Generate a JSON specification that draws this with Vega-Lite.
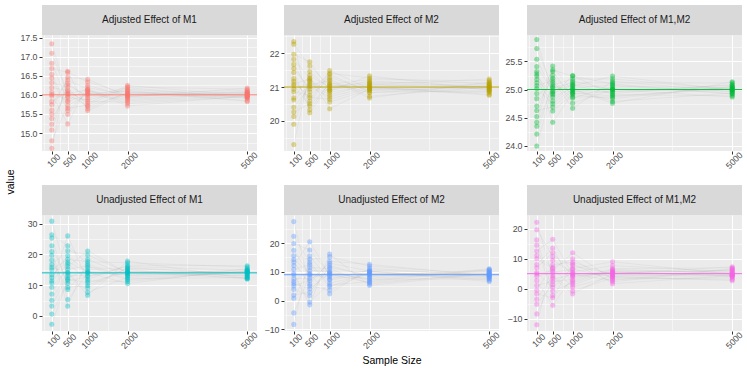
{
"$schema":"https://vega.github.io/schema/vega-lite/v6.json",
"padding":{"left":4,"top":5,"right":0,"bottom":0},
"config":{"font":"Liberation Sans","view":{"stroke":null},"axis":{"domain":false,"gridColor":"#FFFFFF","tickColor":"#333333","tickSize":3,"tickWidth":1,"labelColor":"#4D4D4D","labelFontSize":8.8,"labelFont":"Liberation Sans","titleFont":"Liberation Sans","titleFontWeight":"normal","titleColor":"#000000","titleFontSize":10.5,"labelOverlap":false,"labelFlush":false}},
"datasets":{
"p1":[
{"r":1,"n":100,"v":16.07},{"r":2,"n":100,"v":15.23},{"r":3,"n":100,"v":16.44},{"r":4,"n":100,"v":17.09},{"r":5,"n":100,"v":15.75},{"r":6,"n":100,"v":15.97},{"r":7,"n":100,"v":16.69},{"r":8,"n":100,"v":14.80},{"r":9,"n":100,"v":16.19},{"r":10,"n":100,"v":15.50},{"r":11,"n":100,"v":16.32},{"r":12,"n":100,"v":17.34},{"r":13,"n":100,"v":15.08},{"r":14,"n":100,"v":16.01},{"r":15,"n":100,"v":15.83},{"r":16,"n":100,"v":16.83},{"r":17,"n":100,"v":15.60},{"r":18,"n":100,"v":16.54},{"r":19,"n":100,"v":15.38},{"r":20,"n":100,"v":14.60},
{"r":1,"n":500,"v":15.85},{"r":2,"n":500,"v":16.26},{"r":3,"n":500,"v":15.59},{"r":4,"n":500,"v":16.02},{"r":5,"n":500,"v":16.39},{"r":6,"n":500,"v":15.93},{"r":7,"n":500,"v":16.59},{"r":8,"n":500,"v":15.72},{"r":9,"n":500,"v":16.12},{"r":10,"n":500,"v":15.49},{"r":11,"n":500,"v":16.20},{"r":12,"n":500,"v":15.97},{"r":13,"n":500,"v":16.31},{"r":14,"n":500,"v":15.24},{"r":15,"n":500,"v":16.08},{"r":16,"n":500,"v":15.82},{"r":17,"n":500,"v":16.46},{"r":18,"n":500,"v":15.65},{"r":19,"n":500,"v":16.04},{"r":20,"n":500,"v":16.62},
{"r":1,"n":1000,"v":16.19},{"r":2,"n":1000,"v":15.97},{"r":3,"n":1000,"v":16.08},{"r":4,"n":1000,"v":15.70},{"r":5,"n":1000,"v":16.15},{"r":6,"n":1000,"v":15.87},{"r":7,"n":1000,"v":16.34},{"r":8,"n":1000,"v":16.01},{"r":9,"n":1000,"v":15.78},{"r":10,"n":1000,"v":16.11},{"r":11,"n":1000,"v":15.64},{"r":12,"n":1000,"v":16.05},{"r":13,"n":1000,"v":15.92},{"r":14,"n":1000,"v":16.25},{"r":15,"n":1000,"v":15.83},{"r":16,"n":1000,"v":16.03},{"r":17,"n":1000,"v":16.41},{"r":18,"n":1000,"v":15.73},{"r":19,"n":1000,"v":16.13},{"r":20,"n":1000,"v":15.59},
{"r":1,"n":2000,"v":15.99},{"r":2,"n":2000,"v":16.19},{"r":3,"n":2000,"v":15.92},{"r":4,"n":2000,"v":16.05},{"r":5,"n":2000,"v":15.77},{"r":6,"n":2000,"v":16.12},{"r":7,"n":2000,"v":16.02},{"r":8,"n":2000,"v":15.85},{"r":9,"n":2000,"v":16.25},{"r":10,"n":2000,"v":15.94},{"r":11,"n":2000,"v":16.07},{"r":12,"n":2000,"v":15.88},{"r":13,"n":2000,"v":16.15},{"r":14,"n":2000,"v":15.97},{"r":15,"n":2000,"v":15.81},{"r":16,"n":2000,"v":16.10},{"r":17,"n":2000,"v":15.96},{"r":18,"n":2000,"v":16.21},{"r":19,"n":2000,"v":15.71},{"r":20,"n":2000,"v":16.03},
{"r":1,"n":5000,"v":16.06},{"r":2,"n":5000,"v":15.92},{"r":3,"n":5000,"v":16.02},{"r":4,"n":5000,"v":16.12},{"r":5,"n":5000,"v":15.96},{"r":6,"n":5000,"v":15.85},{"r":7,"n":5000,"v":16.07},{"r":8,"n":5000,"v":16.00},{"r":9,"n":5000,"v":15.97},{"r":10,"n":5000,"v":16.18},{"r":11,"n":5000,"v":15.91},{"r":12,"n":5000,"v":16.04},{"r":13,"n":5000,"v":15.94},{"r":14,"n":5000,"v":16.09},{"r":15,"n":5000,"v":15.98},{"r":16,"n":5000,"v":15.83},{"r":17,"n":5000,"v":16.05},{"r":18,"n":5000,"v":16.15},{"r":19,"n":5000,"v":15.97},{"r":20,"n":5000,"v":16.00}
],
"p2":[
{"r":1,"n":100,"v":20.68},{"r":2,"n":100,"v":21.55},{"r":3,"n":100,"v":20.13},{"r":4,"n":100,"v":21.04},{"r":5,"n":100,"v":21.82},{"r":6,"n":100,"v":20.86},{"r":7,"n":100,"v":22.27},{"r":8,"n":100,"v":20.40},{"r":9,"n":100,"v":21.25},{"r":10,"n":100,"v":19.90},{"r":11,"n":100,"v":21.43},{"r":12,"n":100,"v":20.94},{"r":13,"n":100,"v":21.67},{"r":14,"n":100,"v":19.30},{"r":15,"n":100,"v":21.17},{"r":16,"n":100,"v":20.62},{"r":17,"n":100,"v":21.97},{"r":18,"n":100,"v":20.26},{"r":19,"n":100,"v":21.09},{"r":20,"n":100,"v":22.35},
{"r":1,"n":500,"v":21.35},{"r":2,"n":500,"v":20.94},{"r":3,"n":500,"v":21.16},{"r":4,"n":500,"v":20.45},{"r":5,"n":500,"v":21.27},{"r":6,"n":500,"v":20.76},{"r":7,"n":500,"v":21.62},{"r":8,"n":500,"v":21.01},{"r":9,"n":500,"v":20.59},{"r":10,"n":500,"v":21.20},{"r":11,"n":500,"v":20.33},{"r":12,"n":500,"v":21.10},{"r":13,"n":500,"v":20.86},{"r":14,"n":500,"v":21.46},{"r":15,"n":500,"v":20.69},{"r":16,"n":500,"v":21.06},{"r":17,"n":500,"v":21.75},{"r":18,"n":500,"v":20.51},{"r":19,"n":500,"v":21.24},{"r":20,"n":500,"v":20.24},
{"r":1,"n":1000,"v":20.98},{"r":2,"n":1000,"v":21.37},{"r":3,"n":1000,"v":20.85},{"r":4,"n":1000,"v":21.09},{"r":5,"n":1000,"v":20.56},{"r":6,"n":1000,"v":21.23},{"r":7,"n":1000,"v":21.03},{"r":8,"n":1000,"v":20.71},{"r":9,"n":1000,"v":21.49},{"r":10,"n":1000,"v":20.89},{"r":11,"n":1000,"v":21.13},{"r":12,"n":1000,"v":20.77},{"r":13,"n":1000,"v":21.29},{"r":14,"n":1000,"v":20.95},{"r":15,"n":1000,"v":20.64},{"r":16,"n":1000,"v":21.19},{"r":17,"n":1000,"v":20.91},{"r":18,"n":1000,"v":21.41},{"r":19,"n":1000,"v":20.36},{"r":20,"n":1000,"v":21.06},
{"r":1,"n":2000,"v":21.11},{"r":2,"n":2000,"v":20.85},{"r":3,"n":2000,"v":21.04},{"r":4,"n":2000,"v":21.22},{"r":5,"n":2000,"v":20.92},{"r":6,"n":2000,"v":20.73},{"r":7,"n":2000,"v":21.14},{"r":8,"n":2000,"v":21.01},{"r":9,"n":2000,"v":20.95},{"r":10,"n":2000,"v":21.33},{"r":11,"n":2000,"v":20.83},{"r":12,"n":2000,"v":21.07},{"r":13,"n":2000,"v":20.90},{"r":14,"n":2000,"v":21.18},{"r":15,"n":2000,"v":20.97},{"r":16,"n":2000,"v":20.68},{"r":17,"n":2000,"v":21.09},{"r":18,"n":2000,"v":21.27},{"r":19,"n":2000,"v":20.94},{"r":20,"n":2000,"v":21.00},
{"r":1,"n":5000,"v":21.01},{"r":2,"n":5000,"v":20.87},{"r":3,"n":5000,"v":21.08},{"r":4,"n":5000,"v":21.19},{"r":5,"n":5000,"v":20.96},{"r":6,"n":5000,"v":21.00},{"r":7,"n":5000,"v":21.12},{"r":8,"n":5000,"v":20.79},{"r":9,"n":5000,"v":21.03},{"r":10,"n":5000,"v":20.91},{"r":11,"n":5000,"v":21.06},{"r":12,"n":5000,"v":21.24},{"r":13,"n":5000,"v":20.84},{"r":14,"n":5000,"v":21.00},{"r":15,"n":5000,"v":20.97},{"r":16,"n":5000,"v":21.15},{"r":17,"n":5000,"v":20.93},{"r":18,"n":5000,"v":21.10},{"r":19,"n":5000,"v":20.89},{"r":20,"n":5000,"v":20.76}
],
"p3":[
{"r":1,"n":100,"v":25.41},{"r":2,"n":100,"v":24.93},{"r":3,"n":100,"v":25.18},{"r":4,"n":100,"v":24.35},{"r":5,"n":100,"v":25.32},{"r":6,"n":100,"v":24.71},{"r":7,"n":100,"v":25.73},{"r":8,"n":100,"v":25.02},{"r":9,"n":100,"v":24.52},{"r":10,"n":100,"v":25.24},{"r":11,"n":100,"v":24.21},{"r":12,"n":100,"v":25.12},{"r":13,"n":100,"v":24.84},{"r":14,"n":100,"v":25.54},{"r":15,"n":100,"v":24.63},{"r":16,"n":100,"v":25.07},{"r":17,"n":100,"v":25.89},{"r":18,"n":100,"v":24.42},{"r":19,"n":100,"v":25.28},{"r":20,"n":100,"v":24.00},
{"r":1,"n":500,"v":24.98},{"r":2,"n":500,"v":25.32},{"r":3,"n":500,"v":24.87},{"r":4,"n":500,"v":25.08},{"r":5,"n":500,"v":24.62},{"r":6,"n":500,"v":25.20},{"r":7,"n":500,"v":25.03},{"r":8,"n":500,"v":24.75},{"r":9,"n":500,"v":25.42},{"r":10,"n":500,"v":24.91},{"r":11,"n":500,"v":25.12},{"r":12,"n":500,"v":24.80},{"r":13,"n":500,"v":25.25},{"r":14,"n":500,"v":24.96},{"r":15,"n":500,"v":24.69},{"r":16,"n":500,"v":25.16},{"r":17,"n":500,"v":24.93},{"r":18,"n":500,"v":25.35},{"r":19,"n":500,"v":24.42},{"r":20,"n":500,"v":25.05},
{"r":1,"n":1000,"v":25.09},{"r":2,"n":1000,"v":24.87},{"r":3,"n":1000,"v":25.03},{"r":4,"n":1000,"v":25.19},{"r":5,"n":1000,"v":24.93},{"r":6,"n":1000,"v":24.76},{"r":7,"n":1000,"v":25.12},{"r":8,"n":1000,"v":25.01},{"r":9,"n":1000,"v":24.96},{"r":10,"n":1000,"v":25.25},{"r":11,"n":1000,"v":24.85},{"r":12,"n":1000,"v":25.06},{"r":13,"n":1000,"v":24.91},{"r":14,"n":1000,"v":25.15},{"r":15,"n":1000,"v":24.98},{"r":16,"n":1000,"v":24.67},{"r":17,"n":1000,"v":25.08},{"r":18,"n":1000,"v":25.24},{"r":19,"n":1000,"v":24.94},{"r":20,"n":1000,"v":25.00},
{"r":1,"n":2000,"v":25.01},{"r":2,"n":2000,"v":24.87},{"r":3,"n":2000,"v":25.08},{"r":4,"n":2000,"v":25.19},{"r":5,"n":2000,"v":24.96},{"r":6,"n":2000,"v":25.00},{"r":7,"n":2000,"v":25.12},{"r":8,"n":2000,"v":24.79},{"r":9,"n":2000,"v":25.03},{"r":10,"n":2000,"v":24.91},{"r":11,"n":2000,"v":25.06},{"r":12,"n":2000,"v":25.24},{"r":13,"n":2000,"v":24.84},{"r":14,"n":2000,"v":25.00},{"r":15,"n":2000,"v":24.97},{"r":16,"n":2000,"v":25.15},{"r":17,"n":2000,"v":24.93},{"r":18,"n":2000,"v":25.10},{"r":19,"n":2000,"v":24.89},{"r":20,"n":2000,"v":24.76},
{"r":1,"n":5000,"v":24.97},{"r":2,"n":5000,"v":25.05},{"r":3,"n":5000,"v":24.92},{"r":4,"n":5000,"v":25.00},{"r":5,"n":5000,"v":25.08},{"r":6,"n":5000,"v":24.99},{"r":7,"n":5000,"v":25.12},{"r":8,"n":5000,"v":24.94},{"r":9,"n":5000,"v":25.02},{"r":10,"n":5000,"v":24.89},{"r":11,"n":5000,"v":25.04},{"r":12,"n":5000,"v":24.99},{"r":13,"n":5000,"v":25.06},{"r":14,"n":5000,"v":24.87},{"r":15,"n":5000,"v":25.02},{"r":16,"n":5000,"v":24.96},{"r":17,"n":5000,"v":25.09},{"r":18,"n":5000,"v":24.93},{"r":19,"n":5000,"v":25.01},{"r":20,"n":5000,"v":25.14}
],
"p4":[
{"r":1,"n":100,"v":13.4},{"r":2,"n":100,"v":25.3},{"r":3,"n":100,"v":9.3},{"r":4,"n":100,"v":16.7},{"r":5,"n":100,"v":0.6},{"r":6,"n":100,"v":20.9},{"r":7,"n":100,"v":15.0},{"r":8,"n":100,"v":5.1},{"r":9,"n":100,"v":30.8},{"r":10,"n":100,"v":10.8},{"r":11,"n":100,"v":18.1},{"r":12,"n":100,"v":7.1},{"r":13,"n":100,"v":22.8},{"r":14,"n":100,"v":12.5},{"r":15,"n":100,"v":3.2},{"r":16,"n":100,"v":19.7},{"r":17,"n":100,"v":11.4},{"r":18,"n":100,"v":26.4},{"r":19,"n":100,"v":-2.7},{"r":20,"n":100,"v":15.8},
{"r":1,"n":500,"v":17.5},{"r":2,"n":500,"v":9.3},{"r":3,"n":500,"v":15.2},{"r":4,"n":500,"v":21.2},{"r":5,"n":500,"v":11.4},{"r":6,"n":500,"v":5.3},{"r":7,"n":500,"v":18.4},{"r":8,"n":500,"v":14.2},{"r":9,"n":500,"v":12.4},{"r":10,"n":500,"v":26.0},{"r":11,"n":500,"v":8.6},{"r":12,"n":500,"v":16.1},{"r":13,"n":500,"v":10.6},{"r":14,"n":500,"v":19.6},{"r":15,"n":500,"v":13.1},{"r":16,"n":500,"v":3.2},{"r":17,"n":500,"v":16.9},{"r":18,"n":500,"v":22.8},{"r":19,"n":500,"v":11.9},{"r":20,"n":500,"v":13.9},
{"r":1,"n":1000,"v":14.4},{"r":2,"n":1000,"v":9.9},{"r":3,"n":1000,"v":16.3},{"r":4,"n":1000,"v":19.8},{"r":5,"n":1000,"v":12.7},{"r":6,"n":1000,"v":13.9},{"r":7,"n":1000,"v":17.6},{"r":8,"n":1000,"v":7.7},{"r":9,"n":1000,"v":15.0},{"r":10,"n":1000,"v":11.4},{"r":11,"n":1000,"v":15.7},{"r":12,"n":1000,"v":21.1},{"r":13,"n":1000,"v":9.1},{"r":14,"n":1000,"v":14.1},{"r":15,"n":1000,"v":13.1},{"r":16,"n":1000,"v":18.4},{"r":17,"n":1000,"v":11.9},{"r":18,"n":1000,"v":16.9},{"r":19,"n":1000,"v":10.8},{"r":20,"n":1000,"v":6.7},
{"r":1,"n":2000,"v":13.2},{"r":2,"n":2000,"v":15.4},{"r":3,"n":2000,"v":11.7},{"r":4,"n":2000,"v":14.1},{"r":5,"n":2000,"v":16.1},{"r":6,"n":2000,"v":13.6},{"r":7,"n":2000,"v":17.3},{"r":8,"n":2000,"v":12.5},{"r":9,"n":2000,"v":14.7},{"r":10,"n":2000,"v":11.2},{"r":11,"n":2000,"v":15.1},{"r":12,"n":2000,"v":13.9},{"r":13,"n":2000,"v":15.7},{"r":14,"n":2000,"v":10.5},{"r":15,"n":2000,"v":14.4},{"r":16,"n":2000,"v":13.0},{"r":17,"n":2000,"v":16.5},{"r":18,"n":2000,"v":12.1},{"r":19,"n":2000,"v":14.2},{"r":20,"n":2000,"v":17.8},
{"r":1,"n":5000,"v":15.1},{"r":2,"n":5000,"v":13.8},{"r":3,"n":5000,"v":14.5},{"r":4,"n":5000,"v":12.3},{"r":5,"n":5000,"v":14.8},{"r":6,"n":5000,"v":13.3},{"r":7,"n":5000,"v":15.9},{"r":8,"n":5000,"v":14.0},{"r":9,"n":5000,"v":12.8},{"r":10,"n":5000,"v":14.6},{"r":11,"n":5000,"v":12.0},{"r":12,"n":5000,"v":14.3},{"r":13,"n":5000,"v":13.6},{"r":14,"n":5000,"v":15.4},{"r":15,"n":5000,"v":13.1},{"r":16,"n":5000,"v":14.2},{"r":17,"n":5000,"v":16.3},{"r":18,"n":5000,"v":12.5},{"r":19,"n":5000,"v":14.7},{"r":20,"n":5000,"v":12.1}
],
"p5":[
{"r":1,"n":100,"v":14.3},{"r":2,"n":100,"v":1.9},{"r":3,"n":100,"v":10.9},{"r":4,"n":100,"v":19.9},{"r":5,"n":100,"v":5.1},{"r":6,"n":100,"v":-4.3},{"r":7,"n":100,"v":15.6},{"r":8,"n":100,"v":9.4},{"r":9,"n":100,"v":6.6},{"r":10,"n":100,"v":27.5},{"r":11,"n":100,"v":0.8},{"r":12,"n":100,"v":12.2},{"r":13,"n":100,"v":3.9},{"r":14,"n":100,"v":17.5},{"r":15,"n":100,"v":7.6},{"r":16,"n":100,"v":-8.3},{"r":17,"n":100,"v":13.4},{"r":18,"n":100,"v":22.4},{"r":19,"n":100,"v":5.9},{"r":20,"n":100,"v":8.9},
{"r":1,"n":500,"v":9.5},{"r":2,"n":500,"v":2.9},{"r":3,"n":500,"v":12.5},{"r":4,"n":500,"v":17.6},{"r":5,"n":500,"v":7.0},{"r":6,"n":500,"v":8.8},{"r":7,"n":500,"v":14.4},{"r":8,"n":500,"v":-0.5},{"r":9,"n":500,"v":10.5},{"r":10,"n":500,"v":5.1},{"r":11,"n":500,"v":11.5},{"r":12,"n":500,"v":20.5},{"r":13,"n":500,"v":1.7},{"r":14,"n":500,"v":9.1},{"r":15,"n":500,"v":7.7},{"r":16,"n":500,"v":15.5},{"r":17,"n":500,"v":5.8},{"r":18,"n":500,"v":13.3},{"r":19,"n":500,"v":4.1},{"r":20,"n":500,"v":-1.5},
{"r":1,"n":1000,"v":7.4},{"r":2,"n":1000,"v":11.6},{"r":3,"n":1000,"v":4.8},{"r":4,"n":1000,"v":9.2},{"r":5,"n":1000,"v":13.0},{"r":6,"n":1000,"v":8.3},{"r":7,"n":1000,"v":15.2},{"r":8,"n":1000,"v":6.1},{"r":9,"n":1000,"v":10.2},{"r":10,"n":1000,"v":3.7},{"r":11,"n":1000,"v":11.1},{"r":12,"n":1000,"v":8.7},{"r":13,"n":1000,"v":12.2},{"r":14,"n":1000,"v":2.4},{"r":15,"n":1000,"v":9.8},{"r":16,"n":1000,"v":7.2},{"r":17,"n":1000,"v":13.7},{"r":18,"n":1000,"v":5.4},{"r":19,"n":1000,"v":9.5},{"r":20,"n":1000,"v":16.2},
{"r":1,"n":2000,"v":10.7},{"r":2,"n":2000,"v":8.7},{"r":3,"n":2000,"v":9.8},{"r":4,"n":2000,"v":6.3},{"r":5,"n":2000,"v":10.3},{"r":6,"n":2000,"v":7.8},{"r":7,"n":2000,"v":12.0},{"r":8,"n":2000,"v":9.1},{"r":9,"n":2000,"v":7.0},{"r":10,"n":2000,"v":10.0},{"r":11,"n":2000,"v":5.8},{"r":12,"n":2000,"v":9.5},{"r":13,"n":2000,"v":8.3},{"r":14,"n":2000,"v":11.2},{"r":15,"n":2000,"v":7.5},{"r":16,"n":2000,"v":9.3},{"r":17,"n":2000,"v":12.6},{"r":18,"n":2000,"v":6.6},{"r":19,"n":2000,"v":10.2},{"r":20,"n":2000,"v":5.3},
{"r":1,"n":5000,"v":8.9},{"r":2,"n":5000,"v":10.6},{"r":3,"n":5000,"v":8.3},{"r":4,"n":5000,"v":9.4},{"r":5,"n":5000,"v":7.1},{"r":6,"n":5000,"v":10.0},{"r":7,"n":5000,"v":9.1},{"r":8,"n":5000,"v":7.7},{"r":9,"n":5000,"v":11.1},{"r":10,"n":5000,"v":8.5},{"r":11,"n":5000,"v":9.6},{"r":12,"n":5000,"v":8.0},{"r":13,"n":5000,"v":10.3},{"r":14,"n":5000,"v":8.8},{"r":15,"n":5000,"v":7.5},{"r":16,"n":5000,"v":9.8},{"r":17,"n":5000,"v":8.6},{"r":18,"n":5000,"v":10.8},{"r":19,"n":5000,"v":6.6},{"r":20,"n":5000,"v":9.3}
],
"p6":[
{"r":1,"n":100,"v":4.2},{"r":2,"n":100,"v":14.5},{"r":3,"n":100,"v":-0.5},{"r":4,"n":100,"v":-8.4},{"r":5,"n":100,"v":8.1},{"r":6,"n":100,"v":5.4},{"r":7,"n":100,"v":-3.5},{"r":8,"n":100,"v":19.7},{"r":9,"n":100,"v":2.7},{"r":10,"n":100,"v":11.1},{"r":11,"n":100,"v":1.1},{"r":12,"n":100,"v":-12.0},{"r":13,"n":100,"v":16.3},{"r":14,"n":100,"v":4.9},{"r":15,"n":100,"v":7.0},{"r":16,"n":100,"v":-5.2},{"r":17,"n":100,"v":10.0},{"r":18,"n":100,"v":-1.7},{"r":19,"n":100,"v":12.6},{"r":20,"n":100,"v":22.2},
{"r":1,"n":500,"v":5.4},{"r":2,"n":500,"v":-2.2},{"r":3,"n":500,"v":8.0},{"r":4,"n":500,"v":3.2},{"r":5,"n":500,"v":13.6},{"r":6,"n":500,"v":0.6},{"r":7,"n":500,"v":4.4},{"r":8,"n":500,"v":10.7},{"r":9,"n":500,"v":-5.5},{"r":10,"n":500,"v":7.1},{"r":11,"n":500,"v":2.4},{"r":12,"n":500,"v":9.5},{"r":13,"n":500,"v":-0.7},{"r":14,"n":500,"v":6.0},{"r":15,"n":500,"v":12.0},{"r":16,"n":500,"v":1.4},{"r":17,"n":500,"v":6.7},{"r":18,"n":500,"v":-3.0},{"r":19,"n":500,"v":16.5},{"r":20,"n":500,"v":3.9},
{"r":1,"n":1000,"v":6.5},{"r":2,"n":1000,"v":2.5},{"r":3,"n":1000,"v":8.9},{"r":4,"n":1000,"v":4.8},{"r":5,"n":1000,"v":1.3},{"r":6,"n":1000,"v":5.6},{"r":7,"n":1000,"v":-0.7},{"r":8,"n":1000,"v":7.7},{"r":9,"n":1000,"v":3.9},{"r":10,"n":1000,"v":10.0},{"r":11,"n":1000,"v":3.1},{"r":12,"n":1000,"v":5.3},{"r":13,"n":1000,"v":2.0},{"r":14,"n":1000,"v":12.0},{"r":15,"n":1000,"v":4.2},{"r":16,"n":1000,"v":6.7},{"r":17,"n":1000,"v":0.6},{"r":18,"n":1000,"v":8.3},{"r":19,"n":1000,"v":4.6},{"r":20,"n":1000,"v":-1.7},
{"r":1,"n":2000,"v":3.9},{"r":2,"n":2000,"v":6.5},{"r":3,"n":2000,"v":4.6},{"r":4,"n":2000,"v":2.8},{"r":5,"n":2000,"v":5.8},{"r":6,"n":2000,"v":7.7},{"r":7,"n":2000,"v":3.6},{"r":8,"n":2000,"v":4.9},{"r":9,"n":2000,"v":5.5},{"r":10,"n":2000,"v":1.7},{"r":11,"n":2000,"v":6.7},{"r":12,"n":2000,"v":4.3},{"r":13,"n":2000,"v":6.1},{"r":14,"n":2000,"v":3.2},{"r":15,"n":2000,"v":5.3},{"r":16,"n":2000,"v":9.0},{"r":17,"n":2000,"v":4.1},{"r":18,"n":2000,"v":2.3},{"r":19,"n":2000,"v":5.6},{"r":20,"n":2000,"v":5.0},
{"r":1,"n":5000,"v":4.0},{"r":2,"n":5000,"v":5.2},{"r":3,"n":5000,"v":4.5},{"r":4,"n":5000,"v":6.7},{"r":5,"n":5000,"v":4.2},{"r":6,"n":5000,"v":5.7},{"r":7,"n":5000,"v":3.1},{"r":8,"n":5000,"v":5.0},{"r":9,"n":5000,"v":6.2},{"r":10,"n":5000,"v":4.4},{"r":11,"n":5000,"v":7.0},{"r":12,"n":5000,"v":4.7},{"r":13,"n":5000,"v":5.4},{"r":14,"n":5000,"v":3.6},{"r":15,"n":5000,"v":6.0},{"r":16,"n":5000,"v":4.8},{"r":17,"n":5000,"v":2.7},{"r":18,"n":5000,"v":6.5},{"r":19,"n":5000,"v":4.3},{"r":20,"n":5000,"v":7.3}
]
},
"spacing":0,
"hconcat":[
{"width":14,"height":354,"data":{"values":[{"t":"value"}]},"mark":{"type":"text","angle":270,"fontSize":10.5,"color":"#000000"},"encoding":{"text":{"field":"t","type":"nominal"}}},
{"spacing":14,"vconcat":[
{"spacing":2,"hconcat":[
{"spacing":0,"bounds":"flush","vconcat":[
{"width":215,"height":30,"view":{"fill":"#D9D9D9","stroke":null},"data":{"values":[{"t":"Adjusted Effect of M1"}]},"mark":{"type":"text","fontSize":10,"color":"#1A1A1A"},"encoding":{"text":{"field":"t","type":"nominal"}}},
{"width":215,"height":116,"view":{"fill":"#EBEBEB","stroke":null},"data":{"name":"p1"},"resolve":{"axis":{"x":"independent","y":"independent"}},"layer":[
{"mark":{"type":"line","color":"#9A9A9A","strokeWidth":0.5,"opacity":0.22},"encoding":{"x":{"field":"n","type":"quantitative","scale":{"domain":[-145,5245],"nice":false,"zero":false},"axis":{"orient":"top","values":[-100,300,750,1500,3500],"grid":true,"gridWidth":0.5,"labels":false,"ticks":false,"title":null,"minExtent":0,"maxExtent":0}},"y":{"field":"v","type":"quantitative","scale":{"domain":[14.53,17.57],"nice":false,"zero":false},"axis":{"orient":"right","values":[14.75,15.25,15.75,16.25,16.75,17.25],"grid":true,"gridWidth":0.5,"labels":false,"ticks":false,"title":null,"minExtent":0,"maxExtent":0}},"detail":{"field":"r","type":"nominal"}}},
{"mark":{"type":"circle","color":"#F8766D","size":26,"opacity":0.4},"encoding":{"x":{"field":"n","type":"quantitative","scale":{"domain":[-145,5245],"nice":false,"zero":false},"axis":{"orient":"bottom","values":[100,500,1000,2000,5000],"format":"d","grid":true,"gridWidth":1,"labelAngle":-45,"labelAlign":"center","labelBaseline":"middle","labelPadding":6,"labelOffset":1.5,"title":null,"minExtent":16,"maxExtent":16}},"y":{"field":"v","type":"quantitative","scale":{"domain":[14.53,17.57],"nice":false,"zero":false},"axis":{"orient":"left","values":[15,15.5,16,16.5,17,17.5],"format":".1f","grid":true,"gridWidth":1,"labelPadding":2,"title":null,"minExtent":23.7,"maxExtent":23.7}}}},
{"data":{"values":[{"t":16}]},"mark":{"type":"rule","color":"#F8766D","strokeWidth":1},"encoding":{"y":{"field":"t","type":"quantitative","scale":{"domain":[14.53,17.57],"nice":false,"zero":false},"axis":null}}}
]}
]},
{"spacing":0,"bounds":"flush","vconcat":[
{"width":215,"height":30,"view":{"fill":"#D9D9D9","stroke":null},"data":{"values":[{"t":"Adjusted Effect of M2"}]},"mark":{"type":"text","fontSize":10,"color":"#1A1A1A"},"encoding":{"text":{"field":"t","type":"nominal"}}},
{"width":215,"height":116,"view":{"fill":"#EBEBEB","stroke":null},"data":{"name":"p2"},"resolve":{"axis":{"x":"independent","y":"independent"}},"layer":[
{"mark":{"type":"line","color":"#9A9A9A","strokeWidth":0.5,"opacity":0.22},"encoding":{"x":{"field":"n","type":"quantitative","scale":{"domain":[-145,5245],"nice":false,"zero":false},"axis":{"orient":"top","values":[-100,300,750,1500,3500],"grid":true,"gridWidth":0.5,"labels":false,"ticks":false,"title":null,"minExtent":0,"maxExtent":0}},"y":{"field":"v","type":"quantitative","scale":{"domain":[19.11,22.54],"nice":false,"zero":false},"axis":{"orient":"right","values":[19.5,20.5,21.5,22.5],"grid":true,"gridWidth":0.5,"labels":false,"ticks":false,"title":null,"minExtent":0,"maxExtent":0}},"detail":{"field":"r","type":"nominal"}}},
{"mark":{"type":"circle","color":"#B79F00","size":26,"opacity":0.4},"encoding":{"x":{"field":"n","type":"quantitative","scale":{"domain":[-145,5245],"nice":false,"zero":false},"axis":{"orient":"bottom","values":[100,500,1000,2000,5000],"format":"d","grid":true,"gridWidth":1,"labelAngle":-45,"labelAlign":"center","labelBaseline":"middle","labelPadding":6,"labelOffset":1.5,"title":null,"minExtent":16,"maxExtent":16}},"y":{"field":"v","type":"quantitative","scale":{"domain":[19.11,22.54],"nice":false,"zero":false},"axis":{"orient":"left","values":[20,21,22],"format":"d","grid":true,"gridWidth":1,"labelPadding":2,"title":null,"minExtent":21.1,"maxExtent":21.1}}}},
{"data":{"values":[{"t":21}]},"mark":{"type":"rule","color":"#B79F00","strokeWidth":1},"encoding":{"y":{"field":"t","type":"quantitative","scale":{"domain":[19.11,22.54],"nice":false,"zero":false},"axis":null}}}
]}
]},
{"spacing":0,"bounds":"flush","vconcat":[
{"width":215,"height":30,"view":{"fill":"#D9D9D9","stroke":null},"data":{"values":[{"t":"Adjusted Effect of M1,M2"}]},"mark":{"type":"text","fontSize":10,"color":"#1A1A1A"},"encoding":{"text":{"field":"t","type":"nominal"}}},
{"width":215,"height":116,"view":{"fill":"#EBEBEB","stroke":null},"data":{"name":"p3"},"resolve":{"axis":{"x":"independent","y":"independent"}},"layer":[
{"mark":{"type":"line","color":"#9A9A9A","strokeWidth":0.5,"opacity":0.22},"encoding":{"x":{"field":"n","type":"quantitative","scale":{"domain":[-145,5245],"nice":false,"zero":false},"axis":{"orient":"top","values":[-100,300,750,1500,3500],"grid":true,"gridWidth":0.5,"labels":false,"ticks":false,"title":null,"minExtent":0,"maxExtent":0}},"y":{"field":"v","type":"quantitative","scale":{"domain":[23.91,25.97],"nice":false,"zero":false},"axis":{"orient":"right","values":[24.25,24.75,25.25,25.75],"grid":true,"gridWidth":0.5,"labels":false,"ticks":false,"title":null,"minExtent":0,"maxExtent":0}},"detail":{"field":"r","type":"nominal"}}},
{"mark":{"type":"circle","color":"#00BA38","size":26,"opacity":0.4},"encoding":{"x":{"field":"n","type":"quantitative","scale":{"domain":[-145,5245],"nice":false,"zero":false},"axis":{"orient":"bottom","values":[100,500,1000,2000,5000],"format":"d","grid":true,"gridWidth":1,"labelAngle":-45,"labelAlign":"center","labelBaseline":"middle","labelPadding":6,"labelOffset":1.5,"title":null,"minExtent":16,"maxExtent":16}},"y":{"field":"v","type":"quantitative","scale":{"domain":[23.91,25.97],"nice":false,"zero":false},"axis":{"orient":"left","values":[24,24.5,25,25.5],"format":".1f","grid":true,"gridWidth":1,"labelPadding":2,"title":null,"minExtent":22.9,"maxExtent":22.9}}}},
{"data":{"values":[{"t":25}]},"mark":{"type":"rule","color":"#00BA38","strokeWidth":1},"encoding":{"y":{"field":"t","type":"quantitative","scale":{"domain":[23.91,25.97],"nice":false,"zero":false},"axis":null}}}
]}
]}
]},
{"spacing":2,"hconcat":[
{"spacing":0,"bounds":"flush","vconcat":[
{"width":215,"height":30,"view":{"fill":"#D9D9D9","stroke":null},"data":{"values":[{"t":"Unadjusted Effect of M1"}]},"mark":{"type":"text","fontSize":10,"color":"#1A1A1A"},"encoding":{"text":{"field":"t","type":"nominal"}}},
{"width":215,"height":116,"view":{"fill":"#EBEBEB","stroke":null},"data":{"name":"p4"},"resolve":{"axis":{"x":"independent","y":"independent"}},"layer":[
{"mark":{"type":"line","color":"#9A9A9A","strokeWidth":0.5,"opacity":0.22},"encoding":{"x":{"field":"n","type":"quantitative","scale":{"domain":[-145,5245],"nice":false,"zero":false},"axis":{"orient":"top","values":[-100,300,750,1500,3500],"grid":true,"gridWidth":0.5,"labels":false,"ticks":false,"title":null,"minExtent":0,"maxExtent":0}},"y":{"field":"v","type":"quantitative","scale":{"domain":[-4.9,32.8],"nice":false,"zero":false},"axis":{"orient":"right","values":[5,15,25],"grid":true,"gridWidth":0.5,"labels":false,"ticks":false,"title":null,"minExtent":0,"maxExtent":0}},"detail":{"field":"r","type":"nominal"}}},
{"mark":{"type":"circle","color":"#00BFC4","size":26,"opacity":0.4},"encoding":{"x":{"field":"n","type":"quantitative","scale":{"domain":[-145,5245],"nice":false,"zero":false},"axis":{"orient":"bottom","values":[100,500,1000,2000,5000],"format":"d","grid":true,"gridWidth":1,"labelAngle":-45,"labelAlign":"center","labelBaseline":"middle","labelPadding":6,"labelOffset":1.5,"title":null,"minExtent":16,"maxExtent":16}},"y":{"field":"v","type":"quantitative","scale":{"domain":[-4.9,32.8],"nice":false,"zero":false},"axis":{"orient":"left","values":[0,10,20,30],"format":"d","grid":true,"gridWidth":1,"labelPadding":2,"title":null,"minExtent":23.7,"maxExtent":23.7}}}},
{"data":{"values":[{"t":14}]},"mark":{"type":"rule","color":"#00BFC4","strokeWidth":1},"encoding":{"y":{"field":"t","type":"quantitative","scale":{"domain":[-4.9,32.8],"nice":false,"zero":false},"axis":null}}}
]}
]},
{"spacing":0,"bounds":"flush","vconcat":[
{"width":215,"height":30,"view":{"fill":"#D9D9D9","stroke":null},"data":{"values":[{"t":"Unadjusted Effect of M2"}]},"mark":{"type":"text","fontSize":10,"color":"#1A1A1A"},"encoding":{"text":{"field":"t","type":"nominal"}}},
{"width":215,"height":116,"view":{"fill":"#EBEBEB","stroke":null},"data":{"name":"p5"},"resolve":{"axis":{"x":"independent","y":"independent"}},"layer":[
{"mark":{"type":"line","color":"#9A9A9A","strokeWidth":0.5,"opacity":0.22},"encoding":{"x":{"field":"n","type":"quantitative","scale":{"domain":[-145,5245],"nice":false,"zero":false},"axis":{"orient":"top","values":[-100,300,750,1500,3500],"grid":true,"gridWidth":0.5,"labels":false,"ticks":false,"title":null,"minExtent":0,"maxExtent":0}},"y":{"field":"v","type":"quantitative","scale":{"domain":[-10.6,29.8],"nice":false,"zero":false},"axis":{"orient":"right","values":[-5,5,15,25],"grid":true,"gridWidth":0.5,"labels":false,"ticks":false,"title":null,"minExtent":0,"maxExtent":0}},"detail":{"field":"r","type":"nominal"}}},
{"mark":{"type":"circle","color":"#619CFF","size":26,"opacity":0.4},"encoding":{"x":{"field":"n","type":"quantitative","scale":{"domain":[-145,5245],"nice":false,"zero":false},"axis":{"orient":"bottom","values":[100,500,1000,2000,5000],"format":"d","grid":true,"gridWidth":1,"labelAngle":-45,"labelAlign":"center","labelBaseline":"middle","labelPadding":6,"labelOffset":1.5,"title":"Sample Size","titlePadding":8,"minExtent":16,"maxExtent":16}},"y":{"field":"v","type":"quantitative","scale":{"domain":[-10.6,29.8],"nice":false,"zero":false},"axis":{"orient":"left","values":[-10,0,10,20],"format":"d","grid":true,"gridWidth":1,"labelPadding":2,"title":null,"minExtent":21.1,"maxExtent":21.1}}}},
{"data":{"values":[{"t":9}]},"mark":{"type":"rule","color":"#619CFF","strokeWidth":1},"encoding":{"y":{"field":"t","type":"quantitative","scale":{"domain":[-10.6,29.8],"nice":false,"zero":false},"axis":null}}}
]}
]},
{"spacing":0,"bounds":"flush","vconcat":[
{"width":215,"height":30,"view":{"fill":"#D9D9D9","stroke":null},"data":{"values":[{"t":"Unadjusted Effect of M1,M2"}]},"mark":{"type":"text","fontSize":10,"color":"#1A1A1A"},"encoding":{"text":{"field":"t","type":"nominal"}}},
{"width":215,"height":116,"view":{"fill":"#EBEBEB","stroke":null},"data":{"name":"p6"},"resolve":{"axis":{"x":"independent","y":"independent"}},"layer":[
{"mark":{"type":"line","color":"#9A9A9A","strokeWidth":0.5,"opacity":0.22},"encoding":{"x":{"field":"n","type":"quantitative","scale":{"domain":[-145,5245],"nice":false,"zero":false},"axis":{"orient":"top","values":[-100,300,750,1500,3500],"grid":true,"gridWidth":0.5,"labels":false,"ticks":false,"title":null,"minExtent":0,"maxExtent":0}},"y":{"field":"v","type":"quantitative","scale":{"domain":[-14.1,24.6],"nice":false,"zero":false},"axis":{"orient":"right","values":[-5,5,15],"grid":true,"gridWidth":0.5,"labels":false,"ticks":false,"title":null,"minExtent":0,"maxExtent":0}},"detail":{"field":"r","type":"nominal"}}},
{"mark":{"type":"circle","color":"#F564E3","size":26,"opacity":0.4},"encoding":{"x":{"field":"n","type":"quantitative","scale":{"domain":[-145,5245],"nice":false,"zero":false},"axis":{"orient":"bottom","values":[100,500,1000,2000,5000],"format":"d","grid":true,"gridWidth":1,"labelAngle":-45,"labelAlign":"center","labelBaseline":"middle","labelPadding":6,"labelOffset":1.5,"title":null,"minExtent":16,"maxExtent":16}},"y":{"field":"v","type":"quantitative","scale":{"domain":[-14.1,24.6],"nice":false,"zero":false},"axis":{"orient":"left","values":[-10,0,10,20],"format":"d","grid":true,"gridWidth":1,"labelPadding":2,"title":null,"minExtent":22.9,"maxExtent":22.9}}}},
{"data":{"values":[{"t":5}]},"mark":{"type":"rule","color":"#F564E3","strokeWidth":1},"encoding":{"y":{"field":"t","type":"quantitative","scale":{"domain":[-14.1,24.6],"nice":false,"zero":false},"axis":null}}}
]}
]}
]}
]}
]
}
